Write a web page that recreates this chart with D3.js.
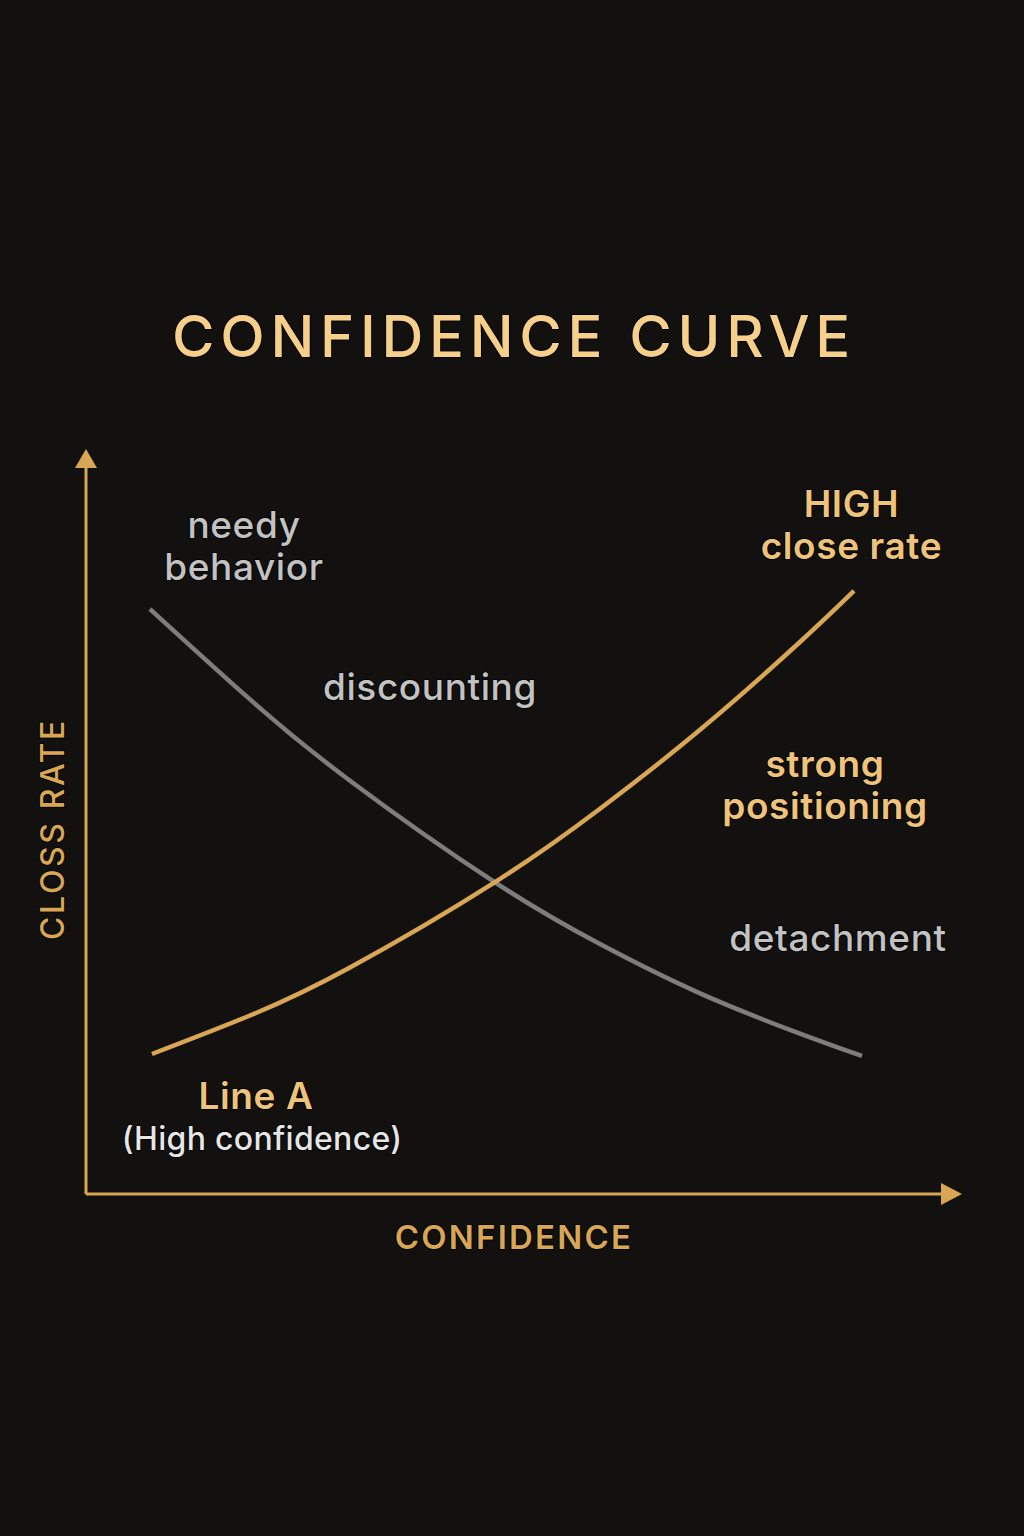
<!DOCTYPE html>
<html><head><meta charset="utf-8">
<script src="https://cdn.jsdelivr.net/npm/d3@7"></script>
<style>
html,body{margin:0;padding:0;background:#121110;}
svg text{font-family:Inter,"Open Sans",sans-serif;paint-order:stroke;stroke:#050505;stroke-width:2px;}
</style></head>
<body>
<script>
// Data (confidence 0-100, close rate 0-100)
const lineAConfidence = [7.67, 19.07, 30.70, 47.56, 59.77, 71.40, 83.02, 89.30];
const lineACloseRate  = [18.92, 24.12, 30.62, 42.15, 52.07, 62.73, 74.59, 81.49];
const lineBConfidence = [7.44, 19.07, 30.70, 47.56, 59.77, 71.40, 83.02, 90.23];
const lineBCloseRate  = [79.05, 66.84, 55.85, 42.11, 33.77, 27.11, 21.68, 18.65];
const annotations = [
  {lines:["needy","behavior"], x:18.37, y:88.65, cls:"gray"},
  {lines:["discounting"], x:40, y:66.76, cls:"gray"},
  {lines:["HIGH","close rate"], x:89, y:91.49, cls:"gold"},
  {lines:["strong","positioning"], x:85.93, y:56.35, cls:"gold"},
  {lines:["detachment"], x:87.44, y:32.84, cls:"gray"},
  {lines:["Line A"], x:19.77, y:11.49, cls:"gold"},
  {lines:["(High confidence)"], x:20.47, y:5.95, cls:"light"}
];
const titleText = "CONFIDENCE CURVE";
const xAxisLabel = "CONFIDENCE";
const yAxisLabel = "CLOSS RATE";

const W = 1024, H = 1536;
const svg = d3.select("body").append("svg").attr("width", W).attr("height", H);
svg.append("rect").attr("width", W).attr("height", H).attr("fill", "#121110");

const x = d3.scaleLinear().domain([0, 100]).range([86, 946]);
const y = d3.scaleLinear().domain([0, 100]).range([1194, 454]);

const gold = "#d8a654", goldText = "#efc47a", titleGold = "#f6d08a";

// title
svg.append("text").attr("x", 514).attr("y", 357).attr("text-anchor", "middle")
  .attr("font-size", 58).attr("font-weight", 500).attr("letter-spacing", 5.7).attr("fill", titleGold)
  .text(titleText);

// axes
svg.append("line").attr("x1", x(0)).attr("y1", y(0)).attr("x2", x(0)).attr("y2", 462)
  .attr("stroke", gold).attr("stroke-width", 3);
svg.append("path").attr("d", `M${x(0)-11},468 L${x(0)},449 L${x(0)+11},468 Z`).attr("fill", gold);
svg.append("line").attr("x1", x(0)).attr("y1", y(0)).attr("x2", 946).attr("y2", y(0))
  .attr("stroke", gold).attr("stroke-width", 3);
svg.append("path").attr("d", `M941,${y(0)-11} L962,${y(0)} L941,${y(0)+11} Z`).attr("fill", gold);

// lines
const line = d3.line().x(d => x(d[0])).y(d => y(d[1])).curve(d3.curveNatural);
svg.append("path").datum(d3.zip(lineBConfidence, lineBCloseRate))
  .attr("d", line).attr("fill", "none").attr("stroke", "#7d7d7d").attr("stroke-width", 4.5);
svg.append("path").datum(d3.zip(lineAConfidence, lineACloseRate))
  .attr("d", line).attr("fill", "none").attr("stroke", gold).attr("stroke-width", 4.5);

// annotations
const colors = {gray: "#c2c2c2", gold: goldText, light: "#e6e6e6"};
annotations.forEach(a => {
  const t = svg.append("text").attr("text-anchor", "middle")
    .attr("fill", colors[a.cls])
    .attr("font-size", a.cls === "light" ? 32 : 37)
    .attr("letter-spacing", a.cls === "light" ? 0.3 : 0.6)
    .attr("font-weight", a.cls === "gold" ? 600 : 500);
  a.lines.forEach((l, i) => {
    t.append("tspan").attr("x", x(a.x)).attr("y", y(a.y) + i * 42).text(l);
  });
});

// axis labels
svg.append("text").attr("x", 514).attr("y", 1249).attr("text-anchor", "middle")
  .attr("font-size", 33).attr("font-weight", 600).attr("letter-spacing", 2.2)
  .attr("fill", gold).text(xAxisLabel);
svg.append("text").attr("transform", "translate(64,829) rotate(-90)").attr("text-anchor", "middle")
  .attr("font-size", 32).attr("font-weight", 500).attr("letter-spacing", 2.6)
  .attr("fill", gold).text(yAxisLabel);
</script>
</body></html>
